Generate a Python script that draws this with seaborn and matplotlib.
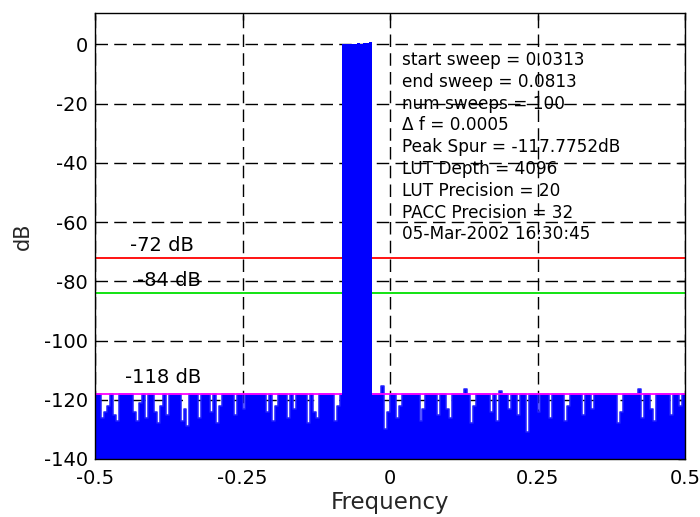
import numpy as np
import pandas as pd
import matplotlib
matplotlib.use("Agg")
import matplotlib.pyplot as plt
import seaborn as sns

# ---------------- data ----------------
bin_width = 0.005
noise_start = -0.5
noise_db = [
    -118, -118, -126, -124, -122, -118, -125, -127, -118, -118,
    -118, -118, -118, -124, -127, -121, -118, -126, -118, -118,
    -124, -128, -122, -118, -125, -118, -118, -118, -118, -127,
    -123, -129, -118, -118, -118, -126, -118, -118, -118, -124,
    -118, -128, -122, -118, -118, -118, -118, -125, -118, -118,
    -123, -118, -118, -118, -118, -118, -118, -118, -124, -118,
    -127, -122, -118, -118, -118, -126, -118, -123, -118, -118,
    -118, -118, -128, -118, -124, -126, -118, -118, -118, -118,
    -118, -127, -122, -118, -118, -118, -118, -118, -118, -118,
    -118, -118, -118, -118, -118, -118, -118, -115.5, -130, -124,
    -118, -118, -126, -122, -118, -118, -118, -118, -118, -118,
    -127, -123, -118, -118, -118, -118, -125, -118, -118, -123,
    -126, -118, -118, -118, -118, -116.5, -118, -128, -122, -118,
    -118, -118, -118, -118, -124, -118, -127, -117, -118, -118,
    -123, -118, -118, -125, -118, -118, -131, -118, -118, -118,
    -124, -118, -118, -118, -126, -118, -118, -118, -118, -127,
    -122, -118, -118, -118, -118, -125, -118, -118, -123, -118,
    -118, -118, -118, -118, -118, -118, -118, -128, -124, -118,
    -118, -118, -118, -118, -116.5, -126, -118, -118, -123, -127,
    -118, -118, -118, -118, -118, -125, -118, -118, -122, -118,
]
band_start = -0.0813
band_db = [0.0, 0.0, 0.0, 0.1, 0.0, 0.3, 0.2, 0.6, 0.4, 0.9]

limit_levels = [-72, -84, -118]
limit_colors = ["#ff0000", "#00e000", "#ff00ff"]
limit_labels = ["-72 dB", "-84 dB", "-118 dB"]

info_lines = [
    "start sweep = 0.0313",
    "end sweep = 0.0813",
    "num sweeps = 100",
    "\u0394 f = 0.0005",
    "Peak Spur = -117.7752dB",
    "LUT Depth = 4096",
    "LUT Precision = 20",
    "PACC Precision = 32",
    "05-Mar-2002 16:30:45",
]

xticks = [-0.5, -0.25, 0, 0.25, 0.5]
xtick_labels = ["-0.5", "-0.25", "0", "0.25", "0.5"]
yticks = [0, -20, -40, -60, -80, -100, -120, -140]
ytick_labels = ["0", "-20", "-40", "-60", "-80", "-100", "-120", "-140"]

# ---------------- style ----------------
sns.set_style("white")
plt.rcParams["font.family"] = ["DejaVu Sans"]
plt.rcParams["axes.unicode_minus"] = False
plt.rcParams["lines.scale_dashes"] = False

fig = plt.figure(figsize=(7.0, 5.17), dpi=100)
ax = fig.add_axes([95 / 700, 58 / 517, 590 / 700, (459 - 12.7) / 517])

# noise floor spectrum (step fill)
n_edges = noise_start + bin_width * np.arange(len(noise_db) + 1)
n_vals = list(noise_db) + [noise_db[-1]]
noise_df = pd.DataFrame({"f": n_edges, "db": n_vals})
ax.fill_between(noise_df["f"], -140, noise_df["db"], step="post",
                color="#0000ff", lw=0, zorder=2)
sns.lineplot(data=noise_df, x="f", y="db", drawstyle="steps-post",
             estimator=None, color="#2020ff", lw=1.1, ax=ax, zorder=2)

# reference limit lines
for lvl, col in zip(limit_levels, limit_colors):
    ldf = pd.DataFrame({"f": [-0.5, 0.5], "db": [lvl, lvl]})
    sns.lineplot(data=ldf, x="f", y="db", color=col, lw=1.3, ax=ax,
                 estimator=None, zorder=3)

# signal band
b_edges = band_start + bin_width * np.arange(len(band_db) + 1)
b_vals = list(band_db) + [band_db[-1]]
ax.fill_between(b_edges, -140, b_vals, step="post", color="#0000ff",
                lw=0, zorder=4)

# limit labels
label_pos = [(-0.4407, -67.9), (-0.4288, -79.7), (-0.449, -112.4)]
for (lx, ly), txt in zip(label_pos, limit_labels):
    ax.text(lx, ly, txt, fontsize=14, va="center", ha="left",
            color="black", zorder=6)

# info text block
for i, line in enumerate(info_lines):
    ypx = 60 + 21.75 * i
    ydb = (44.3 - ypx) / 2.957
    ax.text(0.0203, ydb, line, fontsize=12.2, va="center", ha="left",
            color="black", zorder=6)

# axes formatting
ax.set_xlim(-0.5, 0.5)
ax.set_ylim(-140, 10.7)
ax.set_xticks(xticks)
ax.set_xticklabels(xtick_labels)
ax.set_yticks(yticks)
ax.set_yticklabels(ytick_labels)
ax.tick_params(direction="in", length=5, width=1, top=True, right=True,
               labelsize=14, colors="black")
ax.tick_params(axis="x", pad=7)
ax.tick_params(axis="y", pad=5)
ax.set_axisbelow(True)
ax.grid(True, color="black", linestyle=(0, (9, 4.5)), linewidth=1.0)
for sp in ax.spines.values():
    sp.set_visible(True)
    sp.set_color("black")
    sp.set_linewidth(1.0)
    sp.set_zorder(7)

ax.set_xlabel("Frequency", fontsize=16.5, labelpad=2)
ax.set_ylabel("dB", fontsize=15, labelpad=8)

fig.savefig("out.png", dpi=100)
